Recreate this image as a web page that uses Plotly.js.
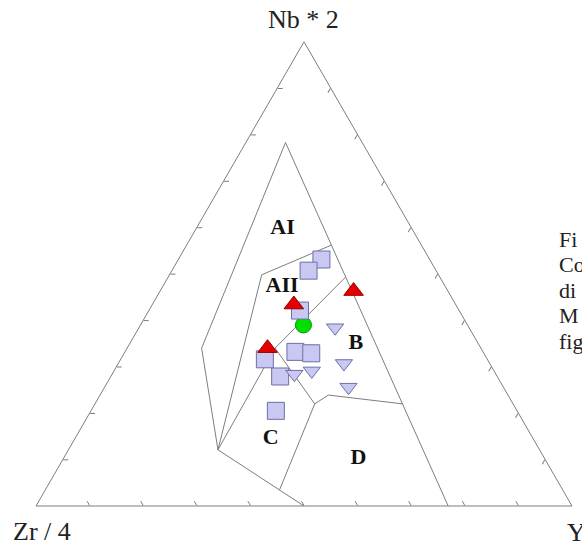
<!DOCTYPE html>
<html>
<head>
<meta charset="utf-8">
<script src="https://cdn.plot.ly/plotly-3.0.1.min.js"></script>
<style>html,body{margin:0;padding:0;background:#fff;}#chart{width:582px;height:546px;}</style>
</head>
<body>
<div id="chart"></div>
<script>
// ---- Data (ternary %: Nb*2, Zr/4, Y) ----
var squaresNb = [53.1, 50.7, 42.1, 33.2, 32.9, 31.6, 27.9, 20.5];
var squaresZr = [20.2, 23.8, 29.7, 35.0, 32.2, 41.5, 40.5, 45.0];
var squaresY  = [26.7, 25.5, 28.2, 31.8, 34.9, 26.9, 31.6, 34.5];

var downNb = [38.4, 30.7, 25.6, 28.4, 29.1];
var downZr = [25.0, 27.2, 28.9, 37.6, 34.0];
var downY  = [36.6, 42.1, 45.5, 34.0, 36.9];

var redNb = [43.4, 46.3, 34.0];
var redZr = [30.2, 17.6, 39.8];
var redY  = [26.4, 36.1, 26.2];

var greenNb = [39.0];
var greenZr = [30.6];
var greenY  = [30.4];

// ---- Field boundaries (Meschede) ----
var outerNb = [78.3, 34.0, 12.1, 0.0];
var outerZr = [14.3, 52.1, 60.0, 50.0];
var outerY  = [7.4, 13.9, 27.9, 50.0];

var rightNb = [78.3, 0.0];
var rightZr = [14.3, 23.1];
var rightY  = [7.4, 76.9];

var a2TopNb = [49.8, 56.2];
var a2TopZr = [33.0, 16.8];
var a2TopY  = [17.2, 27.0];

var a2LeftNb = [49.8, 12.1];
var a2LeftZr = [33.0, 60.0];
var a2LeftY  = [17.2, 27.9];

var diagNb = [49.3, 34.0, 12.1];
var diagZr = [17.6, 38.4, 60.0];
var diagY  = [33.1, 27.6, 27.9];

var cbNb = [34.0, 22.0];
var cbZr = [38.4, 37.0];
var cbY  = [27.6, 41.0];

var cdNb = [22.0, 3.5];
var cdZr = [37.0, 52.8];
var cdY  = [41.0, 43.7];

var dbNb = [22.0, 23.9, 22.0];
var dbZr = [37.0, 33.5, 20.6];
var dbY  = [41.0, 42.6, 57.4];

var fieldLabels = ['AI', 'AII', 'B', 'C', 'D'];
var labelNb = [59.8, 47.2, 34.9, 14.6, 10.3];
var labelZr = [24.1, 30.5, 22.9, 48.9, 34.7];
var labelY  = [16.1, 22.3, 42.2, 36.5, 55.0];

var cornerLabels = ['Nb * 2', 'Zr / 4', 'Y'];
var captionLines = ['Fi', 'Co', 'di', 'M', 'fig'];

// ---- Traces ----
var lineStyle = {color: 'rgb(125,125,125)', width: 1};
function boundary(a, b, c) {
  return {type: 'scatterternary', mode: 'lines', a: a, b: b, c: c,
          line: lineStyle, hoverinfo: 'skip', showlegend: false};
}
var traces = [
  boundary(outerNb, outerZr, outerY),
  boundary(rightNb, rightZr, rightY),
  boundary(a2TopNb, a2TopZr, a2TopY),
  boundary(a2LeftNb, a2LeftZr, a2LeftY),
  boundary(diagNb, diagZr, diagY),
  boundary(cbNb, cbZr, cbY),
  boundary(cdNb, cdZr, cdY),
  boundary(dbNb, dbZr, dbY),
  {type: 'scatterternary', mode: 'markers', a: greenNb, b: greenZr, c: greenY,
   marker: {symbol: 'circle', size: 16, color: 'rgb(0,225,0)', line: {color: 'rgb(0,150,0)', width: 1}},
   hoverinfo: 'skip', showlegend: false},
  {type: 'scatterternary', mode: 'markers', a: squaresNb, b: squaresZr, c: squaresY,
   marker: {symbol: 'square', size: 17, color: 'rgb(200,200,242)', line: {color: 'rgb(110,110,165)', width: 1}},
   hoverinfo: 'skip', showlegend: false},
  {type: 'scatterternary', mode: 'markers', a: downNb, b: downZr, c: downY,
   marker: {symbol: 'triangle-down', size: 15, color: 'rgb(200,200,242)', line: {color: 'rgb(110,110,165)', width: 1}},
   hoverinfo: 'skip', showlegend: false},
  {type: 'scatterternary', mode: 'markers', a: redNb, b: redZr, c: redY,
   marker: {symbol: 'triangle-up', size: 17, color: 'rgb(228,0,0)', line: {color: 'rgb(150,0,0)', width: 1}},
   hoverinfo: 'skip', showlegend: false},
  {type: 'scatterternary', mode: 'text', a: labelNb, b: labelZr, c: labelY,
   text: fieldLabels, textposition: 'middle center',
   textfont: {family: 'Liberation Serif, Times New Roman, serif', size: 22, color: '#111', weight: 'bold'},
   hoverinfo: 'skip', showlegend: false}
];

var axisCommon = {
  showgrid: false, showticklabels: false, ticks: 'inside', ticklen: 5,
  tickcolor: 'rgb(125,125,125)', tickwidth: 1, dtick: 10, tick0: 0,
  linecolor: 'rgb(125,125,125)', linewidth: 1, title: {text: ''}
};
var serif = 'Liberation Serif, Times New Roman, serif';

// corner labels (axis names) placed beside the vertices
var cornerPos = [[303 / 582, 1 - 20 / 546, 'center'], [11 / 582, 1 - 531 / 546, 'left'], [565 / 582, 1 - 532 / 546, 'left']];
var annotations = cornerLabels.map(function (t, i) {
  return {text: t, xref: 'paper', yref: 'paper', x: cornerPos[i][0], y: cornerPos[i][1],
          xanchor: cornerPos[i][2], yanchor: 'middle', showarrow: false,
          font: {family: serif, size: 26, color: '#222'}};
}).concat(captionLines.map(function (t, i) {
  return {text: t, xref: 'paper', yref: 'paper', x: 557 / 582, y: 1 - (239 + i * 25.5) / 546,
          xanchor: 'left', yanchor: 'middle', showarrow: false,
          font: {family: serif, size: 22, color: '#222'}};
}));

var layout = {
  width: 582, height: 546,
  margin: {l: 0, r: 0, t: 0, b: 0},
  paper_bgcolor: '#fff',
  showlegend: false,
  ternary: {
    sum: 100,
    bgcolor: '#fff',
    domain: {x: [0.06186, 0.98282], y: [0.07326, 0.92344]},
    aaxis: axisCommon,
    baxis: axisCommon,
    caxis: axisCommon
  },
  annotations: annotations
};

Plotly.newPlot('chart', traces, layout, {displayModeBar: false, staticPlot: true});
</script>
</body>
</html>
